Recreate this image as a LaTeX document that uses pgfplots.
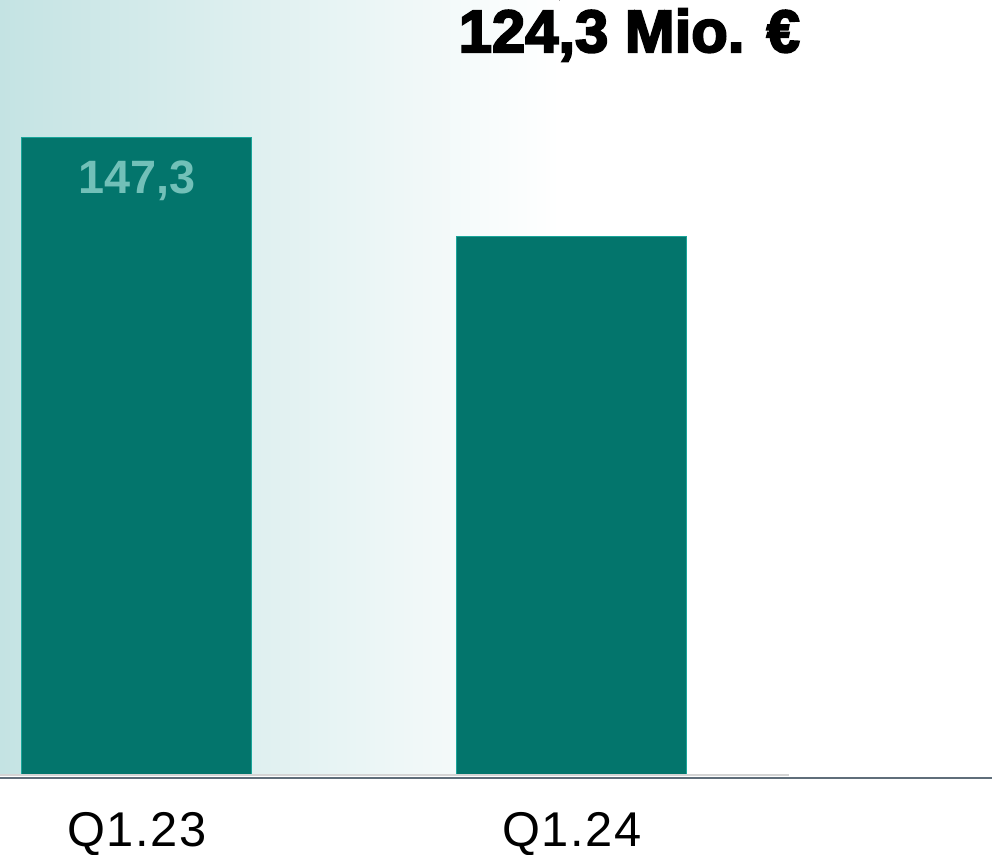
\documentclass[border=0pt]{standalone}
\usepackage{pgfplots}
\pgfplotsset{compat=1.18}
\usepackage{fontspec}
\setmainfont{Liberation Sans}
\newfontfamily\blackfont[FakeBold=3.5]{Liberation Sans Bold}
\newfontfamily\labfont[LetterSpace=3]{Liberation Sans}
\definecolor{barfill}{HTML}{03756C}
\definecolor{baredge}{HTML}{1AA59A}
\definecolor{lbl}{HTML}{72C0B8}
\definecolor{bgteal}{HTML}{C4E3E3}
\definecolor{axdark}{HTML}{5F6E7A}
\definecolor{axlight}{HTML}{D4D4D4}
\begin{document}
\begin{tikzpicture}
\begin{axis}[
  scale only axis,
  width=992bp, height=774bp,
  xmin=-0.315, xmax=1.966,
  ymin=0, ymax=179.0,
  axis line style={draw=none},
  ytick=\empty,
  xtick=data,
  xticklabels={Q1.23,Q1.24},
  xticklabel style={anchor=base, inner sep=0pt, yshift=-72bp, font=\labfont\fontsize{49}{52}\selectfont},
  major tick length=0pt,
  clip=false,
  ybar,
  bar width=230bp,
]
\fill[left color=bgteal, right color=white, shading angle=90] (axis cs:-0.315,0) rectangle (axis cs:0.972,179.0);
\addplot[fill=barfill, draw=baredge, line width=1bp, bar shift=0pt] coordinates {(0,147.3) (1,124.3)};
\node[anchor=north, text=lbl, font=\bfseries\fontsize{47}{50}\selectfont, inner sep=0pt] at (axis cs:0,147.3) [yshift=-24bp] {147,3};
\node[anchor=base, font=\blackfont\fontsize{60}{63}\selectfont, inner sep=0pt] at (axis cs:1.132,179.0) [yshift=-52bp] {124,3 Mio. €};
\end{axis}
\draw[axlight, line width=2bp] (0,-1bp) -- (789bp,-1bp);
\draw[axdark, line width=2bp] (0,-3.5bp) -- (992bp,-3.5bp);
\pgfresetboundingbox
\path[use as bounding box] (0,-81bp) rectangle (992bp,774bp);
\end{tikzpicture}
\end{document}
